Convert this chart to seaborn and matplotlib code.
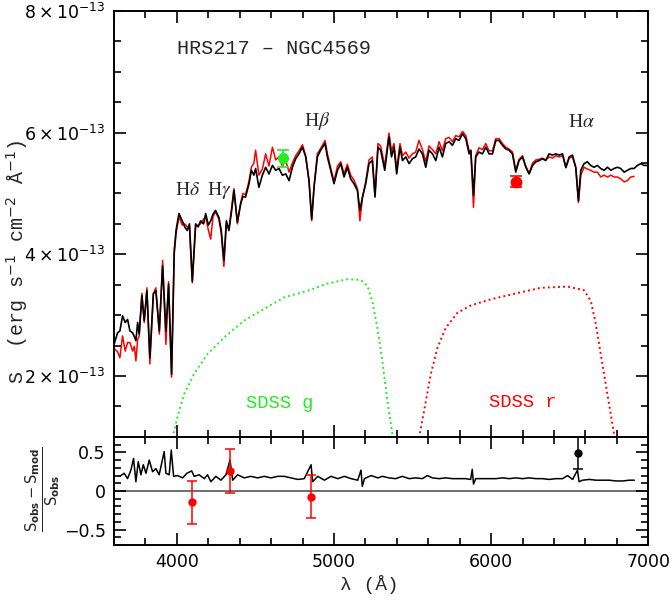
import matplotlib
matplotlib.use("Agg")
import matplotlib.pyplot as plt
import pandas as pd
import seaborn as sns
from matplotlib.ticker import MultipleLocator, FixedLocator, FuncFormatter

# Observed spectrum: wavelength (Angstrom) and flux (units of 1e-13 erg s-1 cm-2 A-1)
wave = [3600, 3622, 3637, 3654, 3671, 3686, 3701, 3718, 3729, 3739, 3750, 3760,
        3777, 3792, 3809, 3828, 3850, 3866, 3888, 3909, 3930, 3947, 3966, 3983,
        3995, 4013, 4034, 4050, 4066, 4080, 4098, 4119, 4135, 4151, 4170, 4183,
        4200, 4215, 4230, 4246, 4267, 4282, 4299, 4315, 4331, 4350, 4363, 4385,
        4406, 4420, 4437, 4459, 4474, 4490, 4501, 4522, 4544, 4565, 4586, 4608,
        4629, 4650, 4671, 4693, 4714, 4735, 4756, 4777, 4799, 4820, 4841, 4858,
        4873, 4894, 4915, 4943, 4958, 4979, 5000, 5022, 5043, 5064, 5085, 5106,
        5127, 5149, 5165, 5181, 5202, 5223, 5244, 5261, 5280, 5297, 5323, 5350,
        5366, 5382, 5399, 5420, 5436, 5457, 5478, 5499, 5520, 5541, 5563, 5584,
        5605, 5627, 5648, 5669, 5690, 5711, 5732, 5754, 5775, 5796, 5818, 5839,
        5860, 5871, 5888, 5902, 5923, 5945, 5966, 5987, 6009, 6030, 6051, 6072,
        6094, 6114, 6136, 6157, 6178, 6200, 6221, 6242, 6264, 6285, 6306, 6327,
        6348, 6369, 6391, 6412, 6433, 6455, 6476, 6497, 6518, 6539, 6556, 6571,
        6592, 6613, 6634, 6655, 6677, 6698, 6719, 6741, 6762, 6783, 6804, 6825,
        6847, 6868, 6889, 6910, 6931, 6953, 6974, 6995]

flux_obs = [2.52, 2.71, 2.74, 2.99, 2.88, 2.93, 2.74, 2.71, 2.65, 2.58, 2.88, 2.69,
            3.32, 2.91, 3.40, 2.30, 3.35, 3.40, 2.74, 3.81, 2.74, 3.51, 2.03, 4.06,
            4.40, 4.67, 4.55, 4.45, 4.39, 4.50, 3.56, 4.50, 4.45, 4.55, 4.50, 4.67,
            4.48, 4.55, 4.66, 4.72, 4.61, 4.40, 3.90, 4.55, 4.39, 4.75, 5.05, 4.53,
            4.83, 4.95, 4.94, 5.16, 5.38, 5.30, 5.41, 5.10, 5.30, 5.43, 5.32, 5.46,
            5.38, 5.41, 5.30, 5.32, 5.21, 5.43, 5.57, 5.65, 5.76, 5.60, 5.21, 4.58,
            5.10, 5.60, 5.71, 5.82, 5.60, 5.38, 5.16, 5.38, 5.49, 5.27, 5.43, 5.24,
            5.16, 5.05, 4.72, 4.94, 5.16, 5.49, 5.54, 4.94, 5.76, 5.71, 5.38, 5.93,
            5.60, 5.76, 5.32, 5.76, 5.54, 5.60, 5.49, 5.57, 5.60, 5.73, 5.65, 5.43,
            5.71, 5.65, 5.54, 5.76, 5.60, 5.82, 5.85, 5.79, 5.90, 5.87, 5.98, 5.90,
            5.65, 5.71, 4.97, 5.60, 5.68, 5.65, 5.76, 5.65, 5.65, 5.87, 5.87, 5.79,
            5.73, 5.71, 5.65, 5.35, 5.54, 5.60, 5.43, 5.32, 5.46, 5.52, 5.54, 5.57,
            5.54, 5.65, 5.63, 5.65, 5.63, 5.65, 5.43, 5.60, 5.63, 5.43, 4.88, 5.38,
            5.49, 5.52, 5.46, 5.43, 5.46, 5.41, 5.38, 5.43, 5.38, 5.41, 5.43, 5.41,
            5.35, 5.38, 5.41, 5.41, 5.46, 5.49, 5.46, 5.46]

# Best-fit model spectrum on the same grid (stops at 6910 A)
flux_mod = [2.45, 2.40, 2.30, 2.66, 2.41, 2.55, 2.55, 2.41, 2.49, 2.25, 2.60, 2.66,
            3.36, 2.88, 3.45, 2.20, 3.35, 3.45, 2.69, 3.90, 2.52, 3.55, 1.98, 4.00,
            4.35, 4.62, 4.48, 4.50, 4.45, 4.45, 3.53, 4.45, 4.48, 4.50, 4.58, 4.62,
            4.40, 4.25, 4.62, 4.70, 4.58, 4.35, 3.80, 4.50, 4.42, 4.80, 5.08, 4.50,
            4.85, 5.00, 4.98, 5.20, 5.43, 5.50, 5.71, 5.30, 5.40, 5.65, 5.45, 5.76,
            5.55, 5.60, 5.45, 5.54, 5.35, 5.50, 5.62, 5.70, 5.80, 5.62, 5.20, 4.55,
            5.12, 5.65, 5.74, 5.87, 5.65, 5.42, 5.20, 5.45, 5.52, 5.32, 5.48, 5.30,
            5.22, 5.08, 4.55, 4.92, 5.20, 5.55, 5.60, 4.98, 5.82, 5.78, 5.45, 5.99,
            5.70, 5.82, 5.40, 5.82, 5.62, 5.68, 5.58, 5.65, 5.68, 5.87, 5.72, 5.52,
            5.78, 5.72, 5.65, 5.85, 5.70, 5.90, 5.92, 5.85, 5.95, 5.93, 6.02, 5.95,
            5.70, 5.70, 4.77, 5.62, 5.75, 5.72, 5.82, 5.70, 5.70, 5.90, 5.90, 5.82,
            5.76, 5.73, 5.68, 5.38, 5.56, 5.62, 5.45, 5.33, 5.50, 5.55, 5.56, 5.58,
            5.55, 5.60, 5.58, 5.62, 5.60, 5.62, 5.42, 5.58, 5.60, 5.42, 4.85, 5.30,
            5.43, 5.40, 5.38, 5.35, 5.35, 5.27, 5.30, 5.27, 5.30, 5.27, 5.27, 5.24,
            5.19, 5.21, 5.27, 5.28]

# SDSS filter transmission curves, scaled to the flux axis
g_wave = [3971, 4002, 4045, 4108, 4194, 4299, 4427, 4554, 4681, 4831, 4958,
          5085, 5170, 5213, 5244, 5276, 5308, 5340, 5372]
g_curve = [0.98, 1.31, 1.70, 2.03, 2.36, 2.63, 2.91, 3.10, 3.29, 3.40, 3.52,
           3.59, 3.58, 3.48, 3.23, 2.79, 2.25, 1.59, 1.04]
r_wave = [5541, 5573, 5616, 5658, 5711, 5786, 5871, 5998, 6146, 6316, 6486,
          6592, 6635, 6667, 6698, 6730, 6762, 6783]
r_curve = [0.98, 1.42, 2.03, 2.46, 2.79, 3.04, 3.16, 3.26, 3.35, 3.45, 3.47,
           3.41, 3.23, 2.85, 2.36, 1.86, 1.37, 1.04]

# Broad-band photometry (effective wavelength, flux, error)
phot_g = (4677, 5.58, 0.14)
phot_r = (6161, 5.19, 0.09)

# Relative residuals (S_obs - S_mod) / S_obs
res_wave = [3637, 3664, 3686, 3707, 3724, 3739, 3754, 3771, 3786, 3803, 3824,
            3845, 3866, 3887, 3919, 3930, 3951, 3964, 3979, 4004, 4036, 4064,
            4094, 4110, 4142, 4174, 4195, 4216, 4248, 4280, 4312, 4338, 4355,
            4386, 4429, 4471, 4514, 4556, 4599, 4641, 4684, 4726, 4769, 4811,
            4854, 4864, 4896, 4939, 4981, 5024, 5066, 5109, 5151, 5172, 5180,
            5194, 5236, 5279, 5308, 5350, 5393, 5435, 5478, 5520, 5562, 5594,
            5626, 5669, 5711, 5754, 5796, 5838, 5870, 5880, 5888, 5902, 5945,
            5987, 6030, 6072, 6115, 6157, 6200, 6242, 6285, 6327, 6370, 6412,
            6455, 6487, 6519, 6550, 6560, 6582, 6625, 6667, 6710, 6752, 6795,
            6837, 6880, 6912]
res_val = [0.19, 0.23, 0.16, 0.27, 0.42, 0.12, 0.38, 0.21, 0.34, 0.23, 0.40,
           0.25, 0.29, 0.21, 0.51, 0.23, 0.21, 0.53, 0.19, 0.20, 0.17, 0.23,
           0.26, 0.19, 0.21, 0.16, 0.21, 0.12, 0.19, 0.14, 0.21, 0.40, 0.14,
           0.21, 0.17, 0.19, 0.17, 0.19, 0.17, 0.19, 0.19, 0.17, 0.15, 0.16,
           0.34, 0.12, 0.19, 0.14, 0.19, 0.16, 0.19, 0.16, 0.14, 0.27, 0.06,
           0.16, 0.20, 0.17, 0.19, 0.17, 0.16, 0.19, 0.16, 0.17, 0.16, 0.20,
           0.17, 0.16, 0.17, 0.16, 0.16, 0.16, 0.15, 0.28, 0.09, 0.16, 0.16,
           0.16, 0.16, 0.17, 0.16, 0.17, 0.16, 0.17, 0.16, 0.16, 0.15, 0.16,
           0.16, 0.20, 0.15, 0.27, 0.12, 0.14, 0.15, 0.14, 0.14, 0.14, 0.13,
           0.13, 0.14, 0.14]

# Balmer line residuals (wavelength, value, error)
line_wave = [4094, 4336, 4854]
line_res = [-0.147, 0.26, -0.074]
line_err = [0.28, 0.28, 0.275]
halpha_res = (6554, 0.49, 0.21)

sns.set_style("ticks")
plt.rcParams.update({
    "font.family": ["DejaVu Sans"],
    "axes.linewidth": 1.4,
    "axes.edgecolor": "black",
    "axes.axisbelow": False,
    "xtick.direction": "in", "ytick.direction": "in",
    "xtick.top": True, "ytick.right": True,
    "xtick.major.size": 8.5, "ytick.major.size": 8.5,
    "xtick.minor.size": 4.7, "ytick.minor.size": 4.7,
    "xtick.major.width": 1.2, "ytick.major.width": 1.2,
    "xtick.minor.width": 1.2, "ytick.minor.width": 1.2,
    "xtick.color": "black", "ytick.color": "black",
    "xtick.labelsize": 12.5, "ytick.labelsize": 12.5,
    "xtick.major.pad": 6, "ytick.major.pad": 6,
})

GREEN = "#22ee22"
RED = "#ff0000"
MONO = ["Liberation Mono", "DejaVu Sans Mono"]

fig = plt.figure(figsize=(6.71, 6.01), dpi=100)
ax = fig.add_axes([0.170, 0.273, 0.796, 0.709])
axr = fig.add_axes([0.170, 0.093, 0.796, 0.180], sharex=ax)

spec = pd.DataFrame({"wave": wave, "obs": flux_obs})
model = pd.DataFrame({"wave": wave[:len(flux_mod)], "mod": flux_mod})
g_df = pd.DataFrame({"wave": g_wave, "trans": g_curve})
r_df = pd.DataFrame({"wave": r_wave, "trans": r_curve})
res_df = pd.DataFrame({"wave": res_wave, "res": res_val})

# Filter curves (dotted)
for df, col in ((g_df, GREEN), (r_df, RED)):
    sns.lineplot(data=df, x="wave", y="trans", ax=ax, color=col, lw=1.4,
                 estimator=None, sort=False)
    ax.lines[-1].set_linestyle((0, (1, 1.6)))

# Model and observed spectra
sns.lineplot(data=model, x="wave", y="mod", ax=ax, color=RED, lw=1.1,
             estimator=None, sort=False)
sns.lineplot(data=spec, x="wave", y="obs", ax=ax, color="black", lw=1.2,
             estimator=None, sort=False)

# Photometric points
ax.errorbar([phot_g[0]], [phot_g[1]], yerr=[phot_g[2]], fmt="o", color=GREEN,
            ms=7, capsize=4.5, elinewidth=1.2, capthick=1.2, zorder=5)
ax.errorbar([phot_r[0]], [phot_r[1]], yerr=[phot_r[2]], fmt="o", color=RED,
            ms=7.5, capsize=4.5, elinewidth=1.2, capthick=1.2, zorder=5)

ax.set_xlim(3600, 7000)
ax.set_ylim(1, 8)
ax.set_xlabel("")
ax.set_ylabel("")

# Annotations
ax.text(4002, 7.38, "HRS217 \u2013 NGC4569", fontsize=14.5, family=MONO,
        ha="left", va="center")
ax.text(4170, 5.05, r"H$\delta$  H$\gamma$", fontsize=14,
        family="Liberation Serif", math_fontfamily="stix",
        ha="center", va="center")
ax.text(4894, 6.19, r"H$\beta$", fontsize=14, family="Liberation Serif",
        math_fontfamily="stix", ha="center", va="center")
ax.text(6575, 6.17, r"H$\alpha$", fontsize=14, family="Liberation Serif",
        math_fontfamily="stix", ha="center", va="center")
ax.text(4654, 1.55, "SDSS g", fontsize=13.5, family=MONO, color=GREEN,
        ha="center", va="center")
ax.text(6200, 1.56, "SDSS r", fontsize=13.5, family=MONO, color=RED,
        ha="center", va="center")

# Residual panel
axr.axhline(0, color="#555555", lw=1.2, zorder=1)
sns.lineplot(data=res_df, x="wave", y="res", ax=axr, color="black", lw=1.1,
             estimator=None, sort=False)
axr.errorbar(line_wave, line_res, yerr=line_err, fmt="o", color=RED, ms=5,
             capsize=3.5, elinewidth=1.1, capthick=1.1, zorder=5)
axr.errorbar([halpha_res[0]], [halpha_res[1]], yerr=[halpha_res[2]], fmt="o",
             color="black", ms=5, capsize=3.5, elinewidth=1.1, capthick=1.1,
             zorder=5)
axr.set_xlim(3600, 7000)
axr.set_ylim(-0.7, 0.7)
axr.set_xlabel("")
axr.set_ylabel("")

# Tick locators, label formats and inward ticks on all four sides
ax.xaxis.set_major_locator(MultipleLocator(1000))
ax.xaxis.set_minor_locator(MultipleLocator(200))
ax.yaxis.set_major_locator(FixedLocator([2, 4, 6, 8]))
ax.yaxis.set_minor_locator(MultipleLocator(0.5))
ax.yaxis.set_major_formatter(FuncFormatter(lambda v, p: r"$%d\times10^{-13}$" % v))
axr.yaxis.set_major_locator(FixedLocator([-0.5, 0, 0.5]))
axr.yaxis.set_minor_locator(MultipleLocator(0.1))
axr.yaxis.set_major_formatter(FuncFormatter(
    lambda v, p: "0" if abs(v) < 1e-9 else ("%.1f" % v).replace("-", "\u2212")))
for a in (ax, axr):
    a.tick_params(which="both", direction="in", top=True, right=True,
                  bottom=True, left=True, color="black", width=1.2)
    a.tick_params(which="major", length=8.5, labelsize=12.5, pad=6)
    a.tick_params(which="minor", length=4.7)
ax.tick_params(labelbottom=False)

fig.text(0.551, 0.028, "\u03bb (\u00c5)", fontsize=14, family=MONO,
         ha="center", va="center")
fig.text(0.026, 0.565, "S  (erg s$^{-1}$ cm$^{-2}$ \u00c5$^{-1}$)",
         fontsize=14.5, family=MONO, rotation=90, ha="center", va="center")
fig.text(0.064, 0.185,
         r"$\frac{\mathrm{S}_{\mathbf{obs}}-\mathrm{S}_{\mathbf{mod}}}{\mathrm{S}_{\mathbf{obs}}}$",
         fontsize=15, rotation=90, ha="center", va="center")

fig.savefig("out.png", dpi=100)
